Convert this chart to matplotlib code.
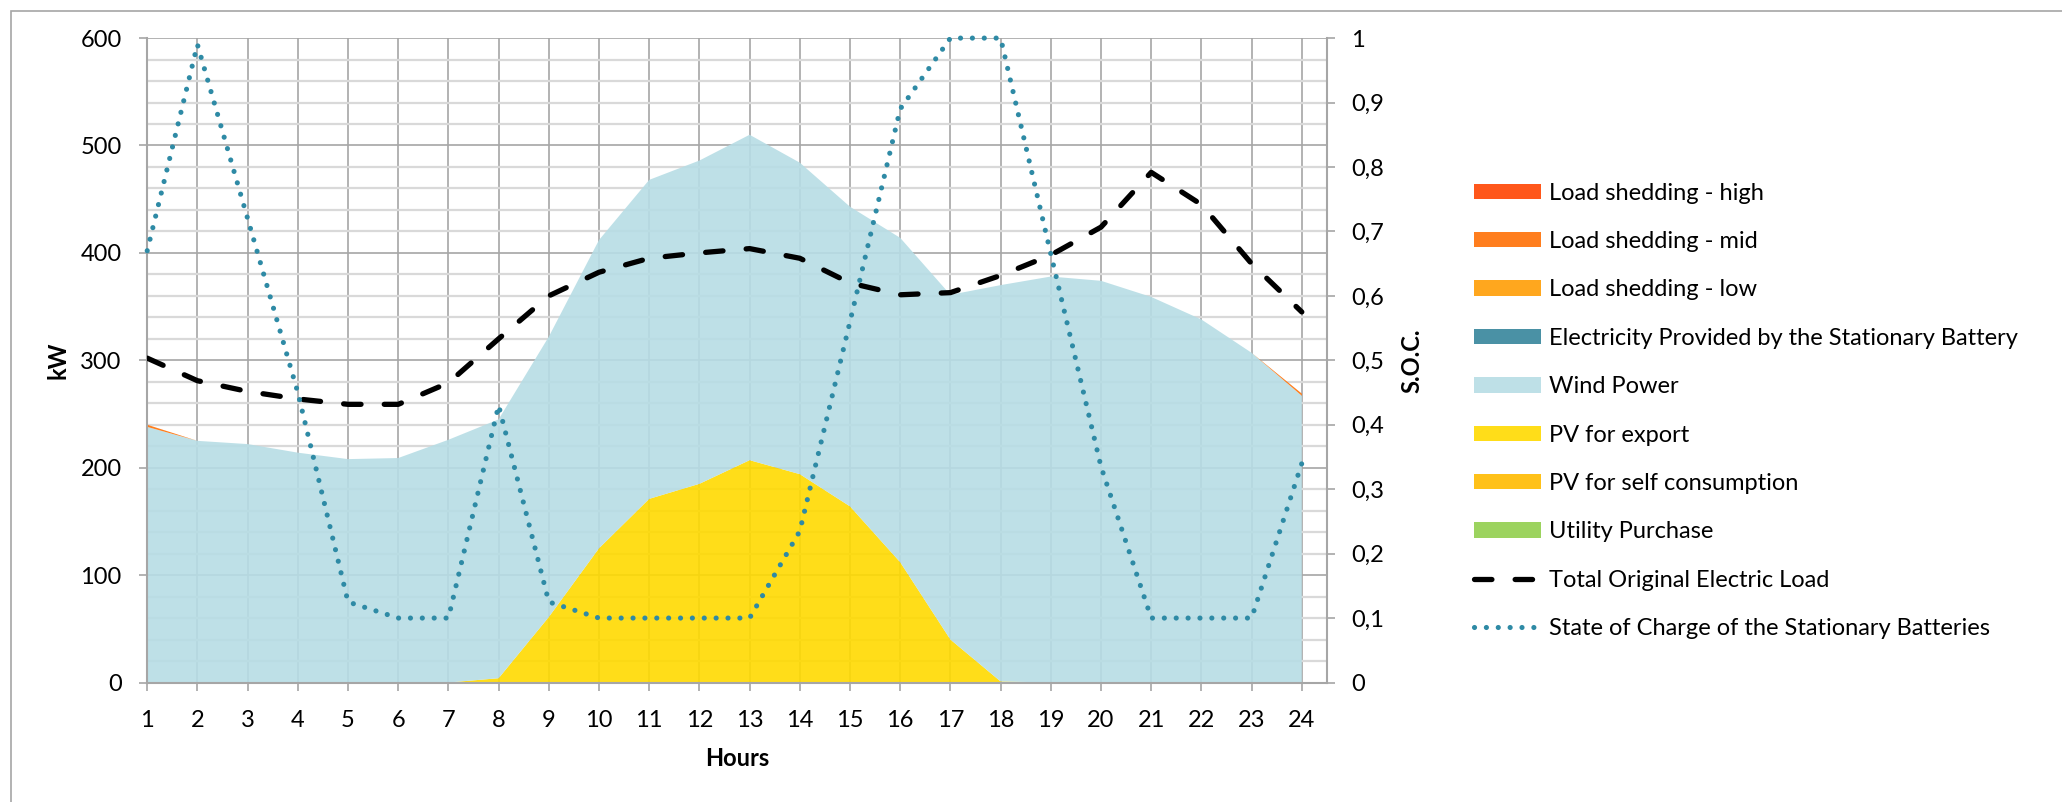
import matplotlib
matplotlib.use("Agg")
import matplotlib.pyplot as plt
from matplotlib.patches import Rectangle
from matplotlib.ticker import MultipleLocator, FuncFormatter

plt.rcParams['font.family'] = ['Lato', 'DejaVu Sans']

hours = list(range(1, 25))

# kW per hour, stacked from the bottom up
utility = [0] * 24
pv_self = [0] * 24
pv_export = [0, 0, 0, 0, 0, 0, 0, 4, 61, 125, 171, 185, 207, 194, 164, 112, 40, 1, 0, 0, 0, 0, 0, 0]
wind = [238, 225, 222, 214, 208, 209, 226, 241, 261, 287, 297, 301, 303, 290, 279, 302, 321, 369,
        378, 374, 359, 338, 307, 267]
battery = [0] * 24
shed_low = [0] * 24
shed_mid = [2] + [0] * 22 + [2]
shed_high = [0] * 24

load = [302, 281, 271, 264, 259, 259, 279, 320, 360, 382, 395, 400, 404, 395, 372, 361, 363, 379,
        398, 424, 475, 445, 390, 345]
soc = [0.67, 0.99, 0.72, 0.45, 0.125, 0.1, 0.1, 0.43, 0.125, 0.1, 0.1, 0.1, 0.1, 0.235, 0.56, 0.89,
       1.0, 1.0, 0.665, 0.335, 0.1, 0.1, 0.1, 0.34]

area_labels = ['Utility Purchase', 'PV for self consumption', 'PV for export', 'Wind Power',
               'Electricity Provided by the Stationary Battery', 'Load shedding - low',
               'Load shedding - mid', 'Load shedding - high']
area_colors = ['#91CF4D', '#FFBB00', '#FFDA00', '#B7DDE5', '#36859B', '#FF9E05', '#FF7005', '#FF4502']
soc_color = '#2E8AA5'
grid_dark = '#A6A6A6'
grid_light = '#D9D9D9'

fig = plt.figure(figsize=(20.62, 8.02), dpi=100)
ax = fig.add_axes([0.0714, 0.149, 0.5721, 0.8035])
ax2 = ax.twinx()

polys = ax.stackplot(hours, utility, pv_self, pv_export, wind, battery, shed_low, shed_mid, shed_high,
                     colors=area_colors, labels=area_labels, alpha=0.9, linewidth=0)

load_line, = ax.plot(hours, load, color='black', lw=3.8, linestyle=(0, (3.3, 4.4)),
                     dash_capstyle='round', zorder=4, label='Total Original Electric Load')
soc_line, = ax2.plot(hours, soc, color=soc_color, lw=3.7, linestyle=(0, (0.01, 2.3)),
                     dash_capstyle='round', clip_on=False,
                     label='State of Charge of the Stationary Batteries')

# left axis (kW)
ax.set_xlim(1, 24.5)
ax.set_ylim(0, 600)
ax.set_xticks(hours)
ax.yaxis.set_major_locator(MultipleLocator(100))
ax.yaxis.set_minor_locator(MultipleLocator(20))
ax.set_axisbelow(True)
ax.grid(which='major', axis='y', color=grid_dark, lw=1.2)
ax.grid(which='minor', axis='y', color=grid_light, lw=1.6)
ax.grid(which='major', axis='x', color=grid_dark, lw=1.2)
ax.tick_params(which='minor', length=0)
ax.tick_params(axis='both', which='major', direction='out', length=6, width=1.2, color=grid_dark,
               labelsize=17)
ax.tick_params(axis='x', pad=14)
ax.tick_params(axis='y', pad=12.5)

# right axis (state of charge)
ax2.set_ylim(0, 1)
ax2.yaxis.set_major_locator(MultipleLocator(0.1))
ax2.yaxis.set_major_formatter(FuncFormatter(
    lambda v, pos: '0' if abs(v) < 1e-9 else ('1' if abs(v - 1) < 1e-9 else f'{v:.1f}'.replace('.', ','))))
ax2.tick_params(axis='y', direction='out', length=6, width=1.2, color=grid_dark, labelsize=17, pad=11.5)

for name in ['top', 'right']:
    ax.spines[name].set_visible(False)
for name in ['top', 'left', 'bottom']:
    ax2.spines[name].set_visible(False)
for sp in [ax.spines['left'], ax.spines['bottom'], ax2.spines['right']]:
    sp.set_color(grid_dark)
    sp.set_linewidth(1.5)

ax.set_ylabel('kW', fontsize=17, fontweight='bold', va='center')
ax.yaxis.set_label_coords(-0.0757, 0.5)
ax2.set_ylabel('S.O.C.', fontsize=17, fontweight='bold', va='center', rotation=90)
ax2.yaxis.set_label_coords(1.072, 0.5)
ax.set_xlabel('Hours', fontsize=17, fontweight='bold', va='center')
ax.xaxis.set_label_coords(0.5, -0.118)

handles = list(polys[::-1]) + [load_line, soc_line]
labels = [h.get_label() for h in handles]
fig.legend(handles, labels, loc='upper left', bbox_to_anchor=(0.7148, 0.7723), frameon=False,
           fontsize=17, handlelength=2.86, handleheight=0.62, handletextpad=0.32,
           labelspacing=1.16, borderpad=0, borderaxespad=0)

# chart area border
fig.add_artist(Rectangle((10.5 / 2062, -0.5), 2, 1.5 - 10.5 / 802, transform=fig.transFigure,
                         fill=False, edgecolor=grid_dark, lw=1.2))

fig.savefig('out.png', dpi=100)
